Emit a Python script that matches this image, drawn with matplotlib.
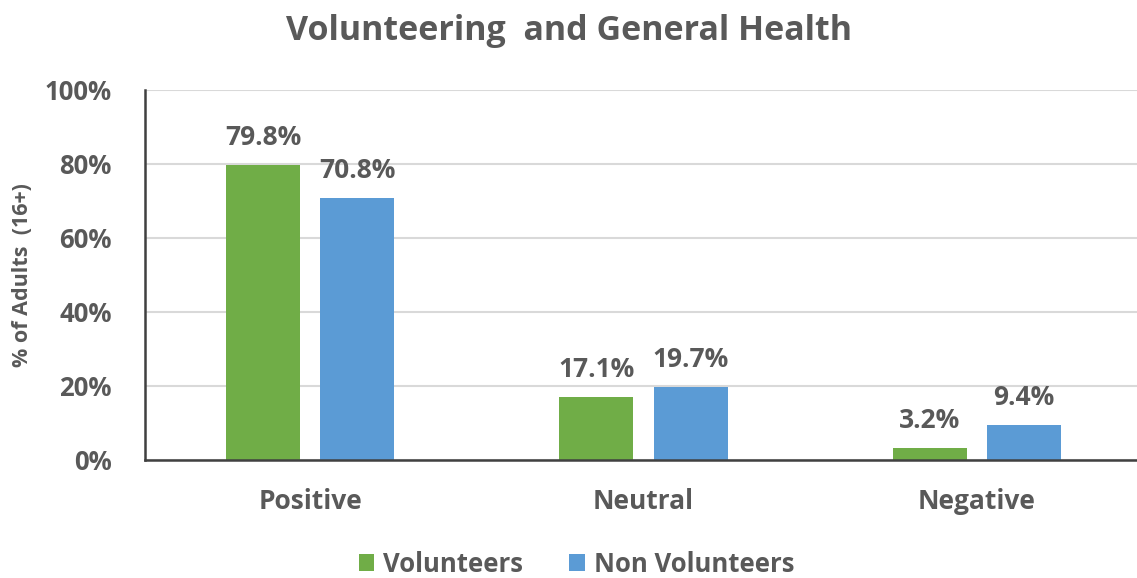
import matplotlib
matplotlib.use("Agg")
import matplotlib.pyplot as plt
import numpy as np

categories = ["Positive", "Neutral", "Negative"]
volunteers = [79.8, 17.1, 3.2]
non_volunteers = [70.8, 19.7, 9.4]
series_names = ["Volunteers", "Non Volunteers"]
yticks = [0, 20, 40, 60, 80, 100]

GREEN = "#70AD47"
BLUE = "#5B9BD5"
TXT = "#595959"
FONT = "Open Sans"

fig = plt.figure(figsize=(11.37, 5.78), dpi=100)
ax = fig.add_axes([145/1137, 118/578, 1 - 145/1137, (460-90)/578])

x = np.arange(len(categories))
w = 0.222
off = 0.141
b1 = ax.bar(x - off, volunteers, w, color=GREEN, label=series_names[0], zorder=3)
b2 = ax.bar(x + off, non_volunteers, w, color=BLUE, label=series_names[1], zorder=3)

for bars, vals in ((b1, volunteers), (b2, non_volunteers)):
    for r, v in zip(bars, vals):
        ax.annotate(f"{v:.1f}%", (r.get_x() + r.get_width()/2, v),
                    xytext=(0, 10), textcoords="offset points", ha="center", va="bottom",
                    fontsize=19, fontweight="bold", color=TXT, family=FONT)

ax.set_xlim(-0.495, 2.48)
ax.set_ylim(0, 100)
ax.set_yticks(yticks)
ax.set_yticklabels([f"{t}%" for t in yticks], fontsize=18.5, fontweight="bold", color=TXT, family=FONT)
ax.set_xticks(x)
ax.set_xticklabels(categories, fontsize=19, fontweight="bold", color=TXT, family=FONT)
ax.tick_params(axis="y", length=0, pad=24)
ax.tick_params(axis="x", length=0, pad=20)
ax.grid(axis="y", color="#D9D9D9", linewidth=1.5, zorder=0)
for s in ("top", "right"):
    ax.spines[s].set_visible(False)
for s in ("left", "bottom"):
    ax.spines[s].set_color("#404040")
    ax.spines[s].set_linewidth(1.8)
    ax.spines[s].set_zorder(4)

ax.set_ylabel("% of Adults  (16+)", fontsize=15.5, fontweight="bold", color=TXT, family=FONT, labelpad=8)

fig.text(0.5, 0.947, "Volunteering  and General Health", ha="center", va="center",
         fontsize=24.5, fontweight="bold", color=TXT, family=FONT)

leg = fig.legend(handles=[b1, b2], labels=series_names, loc="center", bbox_to_anchor=(0.507, 0.024),
                 ncol=2, frameon=False, prop={"family": FONT, "weight": "bold", "size": 18.5},
                 handlelength=0.6, handleheight=0.6, handletextpad=0.35, columnspacing=1.8)
for t in leg.get_texts():
    t.set_color(TXT)

fig.savefig("out.png", dpi=100)
